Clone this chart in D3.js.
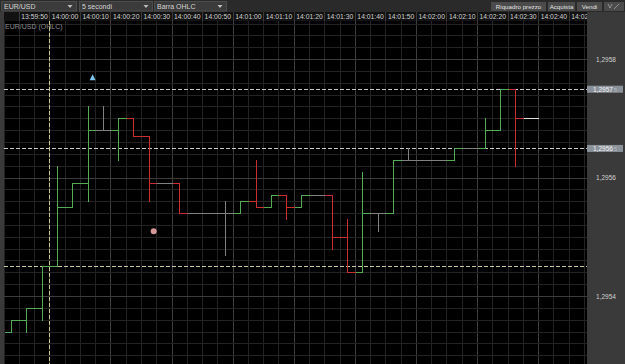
<!DOCTYPE html>
<html><head><meta charset="utf-8">
<script src="https://cdn.jsdelivr.net/npm/d3@7"></script>
<style>
body{margin:0;background:#2a2a2a;overflow:hidden}
svg{display:block}
text{font-family:"Liberation Sans",Arial,sans-serif}
</style>
</head><body><svg id="c" width="625" height="364"></svg>
<script>
// ---- data ----
const barTimes = ["13:59:45","13:59:50","13:59:55","14:00:00","14:00:05","14:00:10","14:00:15","14:00:20","14:00:25","14:00:30",
  "14:00:35","14:00:40","14:00:45","14:00:50","14:00:55","14:01:00","14:01:05","14:01:10","14:01:15","14:01:20",
  "14:01:25","14:01:30","14:01:35","14:01:40","14:01:45","14:01:50","14:01:55","14:02:00","14:02:05","14:02:10",
  "14:02:15","14:02:20","14:02:25","14:02:30","14:02:35"];
const openP  = [1.29534,1.29536,1.29538,1.29545,1.29555,1.29559,1.29568,1.29568,1.29570,1.29567,
  1.29559,1.29559,1.29554,1.29554,1.29554,1.29554,1.29556,1.29555,1.29557,1.29555,
  1.29557,1.29557,1.29550,1.29544,1.29554,1.29554,1.29563,1.29563,1.29563,1.29563,
  1.29565,1.29565,1.29568,1.29575,1.29570];
const highP  = [1.29536,1.29538,1.29545,1.29562,1.29559,1.29572,1.29572,1.29570,1.29570,1.29567,
  1.29559,1.29559,1.29554,1.29554,1.29556,1.29556,1.29563,1.29557,1.29557,1.29557,
  1.29557,1.29557,1.29553,1.29561,1.29554,1.29563,1.29565,1.29563,1.29563,1.29565,
  1.29565,1.29570,1.29575,1.29575,1.29570];
const lowP   = [1.29534,1.29534,1.29536,1.29545,1.29555,1.29556,1.29568,1.29563,1.29567,1.29556,
  1.29559,1.29554,1.29554,1.29554,1.29547,1.29554,1.29555,1.29555,1.29553,1.29555,
  1.29557,1.29548,1.29544,1.29544,1.29551,1.29554,1.29563,1.29563,1.29563,1.29563,
  1.29565,1.29565,1.29568,1.29562,1.29570];
const closeP = [1.29536,1.29538,1.29545,1.29555,1.29559,1.29568,1.29568,1.29570,1.29567,1.29559,
  1.29559,1.29554,1.29554,1.29554,1.29554,1.29556,1.29555,1.29557,1.29555,1.29557,
  1.29557,1.29550,1.29544,1.29554,1.29554,1.29563,1.29563,1.29563,1.29563,1.29565,
  1.29565,1.29568,1.29575,1.29570,1.29570];
const timeLabels = ["13:59:50","14:00:00","14:00:10","14:00:20","14:00:30","14:00:40","14:00:50","14:01:00","14:01:10",
  "14:01:20","14:01:30","14:01:40","14:01:50","14:02:00","14:02:10","14:02:20","14:02:30","14:02:40","14:02:50"];
const priceLabels = [1.2958, 1.2956, 1.2954];
const levelPrices = [1.29575, 1.29565];
const supportPrices = [1.29545];
const sessionTimes = ["14:00:00"];
const arrowMarks = [{t:"14:00:14", p:1.29577}];
const dotMarks = [{t:"14:00:34", p:1.29551}];

// ---- layout ----
const W = 625, H = 364;
const plot = {x0:4, x1:587, y0:21, y1:364};
const parse = d3.timeParse("%H:%M:%S");
const sec = 1000;
const x = d3.scaleTime().domain([parse("13:59:45"), parse("14:02:56")]).range([4, 4 + 191*3.055]);
const y = d3.scaleLinear().domain([1.2954, 1.2958]).range([296.5, 59.6]);
const px = v => Math.floor(v) + 0.5;

const svg = d3.select("#c");

// backgrounds
svg.append("rect").attr("x",0).attr("y",0).attr("width",W).attr("height",H).attr("fill","#2a2a2a");
svg.append("rect").attr("x",0).attr("y",12).attr("width",W).attr("height",H-12).attr("fill","#3a3a3a");
svg.append("rect").attr("x",plot.x0).attr("y",12).attr("width",plot.x1-plot.x0).attr("height",9).attr("fill","#121212");
svg.append("rect").attr("x",plot.x0).attr("y",plot.y0).attr("width",plot.x1-plot.x0).attr("height",plot.y1-plot.y0).attr("fill","#000");

// clip
svg.append("defs").append("clipPath").attr("id","pc").append("rect")
  .attr("x",plot.x0).attr("y",plot.y0).attr("width",plot.x1-plot.x0).attr("height",plot.y1-plot.y0);
svg.append("defs").append("clipPath").attr("id","tc").append("rect")
  .attr("x",plot.x0).attr("y",12).attr("width",plot.x1-plot.x0).attr("height",9);

const g = svg.append("g").attr("clip-path","url(#pc)").attr("shape-rendering","crispEdges");

// vertical grid every 5 s
const t0 = parse("13:59:45"), tEnd = parse("14:02:56");
const gridTimes = d3.timeSecond.every(5).range(t0, tEnd);
g.selectAll("line.vg").data(gridTimes).join("line").attr("class","vg")
  .attr("x1",d=>px(x(d))).attr("x2",d=>px(x(d)))
  .attr("y1",plot.y0).attr("y2",plot.y1)
  .attr("stroke",d=> d.getSeconds()%20===0 ? "#3c3c3c" : "#232323").attr("stroke-width",1);

// horizontal grid every 0.00002
const yTop = y.invert(plot.y0), yBot = y.invert(plot.y1);
const hVals = d3.range(Math.ceil(yBot/0.00002), Math.floor(yTop/0.00002)+1).map(k=>k*0.00002);
g.selectAll("line.hg").data(hVals).join("line").attr("class","hg")
  .attr("x1",plot.x0).attr("x2",plot.x1)
  .attr("y1",d=>px(y(d))).attr("y2",d=>px(y(d)))
  .attr("stroke",d=> Math.abs(Math.round(d/0.0002)*0.0002 - d) < 1e-9 ? "#3c3c3c" : "#232323");

// dashed level lines
g.selectAll("line.lvl").data(levelPrices).join("line").attr("class","lvl")
  .attr("x1",plot.x0).attr("x2",plot.x1)
  .attr("y1",d=>px(y(d))).attr("y2",d=>px(y(d)))
  .attr("stroke","#c8c8c8").attr("stroke-dasharray","4,2");
g.selectAll("line.sup").data(supportPrices).join("line").attr("class","sup")
  .attr("x1",plot.x0).attr("x2",plot.x1)
  .attr("y1",d=>px(y(d))).attr("y2",d=>px(y(d)))
  .attr("stroke","#c9c79a").attr("stroke-dasharray","4,2");
g.selectAll("line.ses").data(sessionTimes).join("line").attr("class","ses")
  .attr("x1",d=>px(x(parse(d)))).attr("x2",d=>px(x(parse(d))))
  .attr("y1",plot.y0).attr("y2",plot.y1)
  .attr("stroke","#c9c79a").attr("stroke-dasharray","4,2");

// OHLC bars: open tick, high-low stem, close tick
const bars = barTimes.map((t,i)=>({t:parse(t), o:openP[i], h:highP[i], l:lowP[i], c:closeP[i], last:i===barTimes.length-1}));
function col(d){
  if (d.last) return "#e0e0e0";
  if (d.c > d.o + 1e-9) return "#55aa55";
  if (d.c < d.o - 1e-9) return "#c83030";
  return "#808080";
}
const bg2 = g.selectAll("g.bar").data(bars).join("g").attr("class","bar").attr("stroke",d=>col(d)).attr("fill","none");
bg2.append("path").attr("stroke-width",1)
  .attr("d",d=>{
    const xl = Math.floor(x(d.t)) + 1, xr = Math.floor(x(new Date(+d.t + 5*sec))) + 1;
    const xc = px(x(new Date(+d.t + 2.5*sec)));
    const yo = px(y(d.o)), yc = px(y(d.c)), yh = px(y(d.h)), yl = px(y(d.l));
    return `M${xl},${yo}H${xc}M${xc},${Math.min(yh,yo,yc)-0.5}V${Math.max(yl,yo,yc)+0.5}M${xc},${yc}H${xr}`;
  });

// markers
const gm = svg.append("g").attr("clip-path","url(#pc)");
gm.selectAll("path.arr").data(arrowMarks).join("path").attr("class","arr")
  .attr("d",d=>{const cx=x(parse(d.t)), cy=y(d.p); return `M${cx-3},${cy+3}L${cx+3},${cy+3}L${cx},${cy-3}Z`;})
  .attr("fill","#7fc4ee");
gm.selectAll("circle.dot").data(dotMarks).join("circle").attr("class","dot")
  .attr("cx",d=>x(parse(d.t))).attr("cy",d=>y(d.p)).attr("r",3).attr("fill","#d49898");

// chart title
svg.append("text").attr("x",5).attr("y",29).attr("font-size",7).attr("fill","#8c8c8c").text("EUR/USD (OHLC)");

// time axis row
const ta = svg.append("g").attr("clip-path","url(#tc)");
const tl = timeLabels.map(parse);
ta.selectAll("line.sep").data(tl).join("line").attr("class","sep")
  .attr("x1",d=>px(x(d))).attr("x2",d=>px(x(d))).attr("y1",12).attr("y2",21)
  .attr("stroke","#3a3a3a").attr("shape-rendering","crispEdges");
ta.selectAll("text.tl").data(timeLabels).join("text").attr("class","tl")
  .attr("x",d=>(x(parse(d)) + x(new Date(+parse(d)+10*sec)))/2)
  .attr("y",19.3).attr("text-anchor","middle").attr("font-size",6.8).attr("fill","#cfcfcf")
  .text(d=>d);

// price axis
const fmt = v => d3.format(".4f")(v).replace(".",",");
svg.selectAll("text.pl").data(priceLabels).join("text").attr("class","pl")
  .attr("x",606).attr("y",d=>y(d)+2.3).attr("text-anchor","middle")
  .attr("font-size",6.5).attr("fill","#d0d0d0").text(fmt);
const hl = svg.selectAll("g.hl").data(levelPrices).join("g").attr("class","hl");
hl.append("rect").attr("x",587).attr("y",d=>y(d)-3.5).attr("width",36).attr("height",7).attr("fill","#8b9199");
hl.append("text").attr("x",593).attr("y",d=>y(d)+2.3).attr("font-size",6.5).attr("fill","#f2f2f2")
  .text(d=>d3.format(".5f")(d).replace(".",",").slice(0,-1));
hl.append("text").attr("x",614).attr("y",d=>y(d)+2.3).attr("font-size",5.5).attr("fill","#b8bcc2")
  .text(d=>d3.format(".5f")(d).slice(-1));

// top controls
const dd = [{x:1,w:75,t:"EUR/USD"},{x:79,w:73,t:"5 secondi"},{x:154,w:72,t:"Barra OHLC"}];
const ddg = svg.selectAll("g.dd").data(dd).join("g").attr("class","dd");
ddg.append("rect").attr("x",d=>d.x+0.5).attr("y",1.5).attr("width",d=>d.w).attr("height",9.5)
  .attr("fill","#3b3b3b").attr("stroke","#4c4c4c");
ddg.append("text").attr("x",d=>d.x+3).attr("y",9).attr("font-size",7).attr("fill","#d4d4d4").text(d=>d.t);
ddg.append("path").attr("d",d=>{const ax=d.x+d.w-6; return `M${ax-2.5},5L${ax+2.5},5L${ax},8Z`;}).attr("fill","#bdbdbd");

const btns = [{x:491,w:55,t:"Riquadro prezzo"},{x:548,w:27,t:"Acquista"},{x:577,w:25,t:"Vendi"},{x:604,w:20,t:""}];
const bb = svg.selectAll("g.btn").data(btns).join("g").attr("class","btn");
bb.append("rect").attr("x",d=>d.x).attr("y",2).attr("width",d=>d.w).attr("height",9).attr("fill","#4b4b4b");
bb.append("text").attr("x",d=>d.x+d.w/2).attr("y",9).attr("text-anchor","middle").attr("font-size",6.2).attr("fill","#e0e0e0").text(d=>d.t);
svg.append("path").attr("d","M608,4L610,8L612,4M614,9L619,4").attr("stroke","#9a9a9a").attr("fill","none").attr("stroke-width",0.9);
</script>
</body></html>
